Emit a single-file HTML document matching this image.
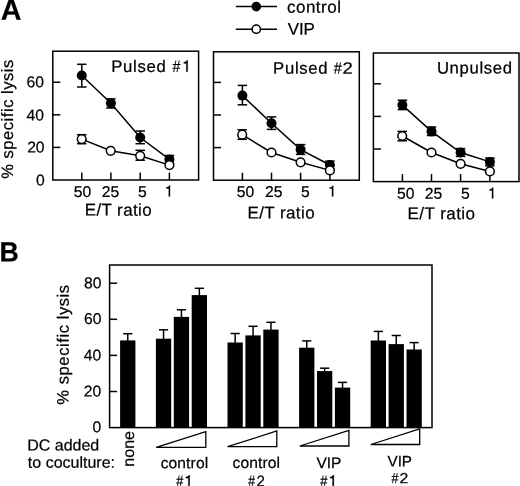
<!DOCTYPE html>
<html><head><meta charset="utf-8"><style>
html,body{margin:0;padding:0;background:#fff;}
svg{display:block;filter:grayscale(100%) blur(0.3px);}
text{font-family:"Liberation Sans", sans-serif;fill:#000;stroke:#000;stroke-width:0.22px;}
</style></head><body>
<svg width="520" height="486" viewBox="0 0 520 486">
<rect width="520" height="486" fill="#fff"/>
<text transform="translate(0.68,19.80) scale(0.985,1) rotate(0.05)" font-size="29.2" font-weight="bold">A</text>
<text transform="translate(-0.39,261.50) scale(0.958,1) rotate(0.05)" font-size="27.9" font-weight="bold">B</text>
<line x1="235.80" y1="6.60" x2="277.00" y2="6.60" stroke="#000" stroke-width="1.5"/>
<circle cx="256.30" cy="6.60" r="4.80" fill="#000"/>
<line x1="235.80" y1="29.20" x2="277.00" y2="29.20" stroke="#000" stroke-width="1.5"/>
<circle cx="256.30" cy="29.20" r="4.15" fill="#fff" stroke="#000" stroke-width="1.5"/>
<text transform="translate(286.88,12.80) rotate(0.05)" font-size="17" letter-spacing="0.522">control</text>
<text transform="translate(287.83,34.80) rotate(0.05)" font-size="17" letter-spacing="-0.215">VIP</text>
<rect x="52.80" y="51.20" width="145.80" height="128.80" fill="none" stroke="#000" stroke-width="1.5"/>
<line x1="52.80" y1="147.40" x2="60.30" y2="147.40" stroke="#000" stroke-width="1.5"/>
<line x1="52.80" y1="114.80" x2="60.30" y2="114.80" stroke="#000" stroke-width="1.5"/>
<line x1="52.80" y1="82.20" x2="60.30" y2="82.20" stroke="#000" stroke-width="1.5"/>
<line x1="81.80" y1="180.00" x2="81.80" y2="172.50" stroke="#000" stroke-width="1.5"/>
<line x1="110.90" y1="180.00" x2="110.90" y2="172.50" stroke="#000" stroke-width="1.5"/>
<line x1="140.20" y1="180.00" x2="140.20" y2="172.50" stroke="#000" stroke-width="1.5"/>
<line x1="169.40" y1="180.00" x2="169.40" y2="172.50" stroke="#000" stroke-width="1.5"/>
<polyline points="81.80,75.50 110.90,103.20 140.20,137.50 169.40,159.40" fill="none" stroke="#000" stroke-width="1.5"/>
<polyline points="81.70,139.10 110.70,150.80 140.20,155.80 169.40,165.10" fill="none" stroke="#000" stroke-width="1.5"/>
<line x1="81.80" y1="64.30" x2="81.80" y2="87.00" stroke="#000" stroke-width="1.5"/>
<line x1="77.05" y1="64.30" x2="86.55" y2="64.30" stroke="#000" stroke-width="1.5"/>
<line x1="77.05" y1="87.00" x2="86.55" y2="87.00" stroke="#000" stroke-width="1.5"/>
<line x1="110.90" y1="98.90" x2="110.90" y2="108.00" stroke="#000" stroke-width="1.5"/>
<line x1="106.15" y1="98.90" x2="115.65" y2="98.90" stroke="#000" stroke-width="1.5"/>
<line x1="106.15" y1="108.00" x2="115.65" y2="108.00" stroke="#000" stroke-width="1.5"/>
<line x1="140.20" y1="131.00" x2="140.20" y2="143.70" stroke="#000" stroke-width="1.5"/>
<line x1="135.45" y1="131.00" x2="144.95" y2="131.00" stroke="#000" stroke-width="1.5"/>
<line x1="135.45" y1="143.70" x2="144.95" y2="143.70" stroke="#000" stroke-width="1.5"/>
<line x1="169.40" y1="155.50" x2="169.40" y2="163.30" stroke="#000" stroke-width="1.5"/>
<line x1="164.65" y1="155.50" x2="174.15" y2="155.50" stroke="#000" stroke-width="1.5"/>
<line x1="164.65" y1="163.30" x2="174.15" y2="163.30" stroke="#000" stroke-width="1.5"/>
<line x1="81.70" y1="134.70" x2="81.70" y2="143.70" stroke="#000" stroke-width="1.5"/>
<line x1="76.95" y1="134.70" x2="86.45" y2="134.70" stroke="#000" stroke-width="1.5"/>
<line x1="76.95" y1="143.70" x2="86.45" y2="143.70" stroke="#000" stroke-width="1.5"/>
<line x1="140.20" y1="150.30" x2="140.20" y2="160.20" stroke="#000" stroke-width="1.5"/>
<line x1="135.45" y1="150.30" x2="144.95" y2="150.30" stroke="#000" stroke-width="1.5"/>
<line x1="135.45" y1="160.20" x2="144.95" y2="160.20" stroke="#000" stroke-width="1.5"/>
<circle cx="81.80" cy="75.50" r="5.00" fill="#000"/>
<circle cx="110.90" cy="103.20" r="5.00" fill="#000"/>
<circle cx="140.20" cy="137.50" r="5.00" fill="#000"/>
<circle cx="169.40" cy="159.40" r="5.00" fill="#000"/>
<circle cx="81.70" cy="139.10" r="4.35" fill="#fff" stroke="#000" stroke-width="1.5"/>
<circle cx="110.70" cy="150.80" r="4.35" fill="#fff" stroke="#000" stroke-width="1.5"/>
<circle cx="140.20" cy="155.80" r="4.35" fill="#fff" stroke="#000" stroke-width="1.5"/>
<circle cx="169.40" cy="165.10" r="4.35" fill="#fff" stroke="#000" stroke-width="1.5"/>
<text transform="translate(111.23,71.90) rotate(0.05)" font-size="16.7" letter-spacing="0.717">Pulsed</text>
<text transform="translate(73.66,196.90) rotate(0.05)" font-size="15.7">50</text>
<text transform="translate(101.70,196.90) rotate(0.05)" font-size="15.7">25</text>
<text transform="translate(138.05,196.90) rotate(0.05)" font-size="15.7">5</text>
<path d="M 170.07 196.40 L 170.07 185.55 L 169.32 185.55 C 169.02 186.61 168.02 187.22 166.34 187.34 L 166.34 188.52 L 168.73 188.52 L 168.73 196.40 Z" fill="#000" stroke="#000" stroke-width="0.22"/>
<path d="M 187.72 71.80 L 187.72 60.24 L 186.92 60.24 C 186.59 61.37 185.53 62.02 183.74 62.15 L 183.74 63.41 L 186.28 63.41 L 186.28 71.80 Z" fill="#000" stroke="#000" stroke-width="0.22"/>
<text transform="translate(172.54,71.90) scale(0.875,1) rotate(0.05)" font-size="16.3">#</text>
<text transform="translate(84.81,215.60) rotate(0.05)" font-size="17" letter-spacing="0.359">E/T ratio</text>
<rect x="213.50" y="51.80" width="145.80" height="128.40" fill="none" stroke="#000" stroke-width="1.5"/>
<line x1="213.50" y1="147.60" x2="221.00" y2="147.60" stroke="#000" stroke-width="1.5"/>
<line x1="213.50" y1="115.00" x2="221.00" y2="115.00" stroke="#000" stroke-width="1.5"/>
<line x1="213.50" y1="82.40" x2="221.00" y2="82.40" stroke="#000" stroke-width="1.5"/>
<line x1="242.40" y1="180.20" x2="242.40" y2="172.70" stroke="#000" stroke-width="1.5"/>
<line x1="271.50" y1="180.20" x2="271.50" y2="172.70" stroke="#000" stroke-width="1.5"/>
<line x1="300.60" y1="180.20" x2="300.60" y2="172.70" stroke="#000" stroke-width="1.5"/>
<line x1="329.90" y1="180.20" x2="329.90" y2="172.70" stroke="#000" stroke-width="1.5"/>
<polyline points="242.40,95.60 271.50,123.20 300.60,149.60 329.90,165.00" fill="none" stroke="#000" stroke-width="1.5"/>
<polyline points="242.20,134.70 271.50,152.50 300.60,162.30 329.90,170.40" fill="none" stroke="#000" stroke-width="1.5"/>
<line x1="242.40" y1="85.40" x2="242.40" y2="104.80" stroke="#000" stroke-width="1.5"/>
<line x1="237.65" y1="85.40" x2="247.15" y2="85.40" stroke="#000" stroke-width="1.5"/>
<line x1="237.65" y1="104.80" x2="247.15" y2="104.80" stroke="#000" stroke-width="1.5"/>
<line x1="271.50" y1="116.90" x2="271.50" y2="129.40" stroke="#000" stroke-width="1.5"/>
<line x1="266.75" y1="116.90" x2="276.25" y2="116.90" stroke="#000" stroke-width="1.5"/>
<line x1="266.75" y1="129.40" x2="276.25" y2="129.40" stroke="#000" stroke-width="1.5"/>
<line x1="300.60" y1="144.60" x2="300.60" y2="154.40" stroke="#000" stroke-width="1.5"/>
<line x1="295.85" y1="144.60" x2="305.35" y2="144.60" stroke="#000" stroke-width="1.5"/>
<line x1="295.85" y1="154.40" x2="305.35" y2="154.40" stroke="#000" stroke-width="1.5"/>
<line x1="329.90" y1="161.10" x2="329.90" y2="168.90" stroke="#000" stroke-width="1.5"/>
<line x1="325.15" y1="161.10" x2="334.65" y2="161.10" stroke="#000" stroke-width="1.5"/>
<line x1="325.15" y1="168.90" x2="334.65" y2="168.90" stroke="#000" stroke-width="1.5"/>
<line x1="242.20" y1="129.80" x2="242.20" y2="139.30" stroke="#000" stroke-width="1.5"/>
<line x1="237.45" y1="129.80" x2="246.95" y2="129.80" stroke="#000" stroke-width="1.5"/>
<line x1="237.45" y1="139.30" x2="246.95" y2="139.30" stroke="#000" stroke-width="1.5"/>
<circle cx="242.40" cy="95.60" r="5.00" fill="#000"/>
<circle cx="271.50" cy="123.20" r="5.00" fill="#000"/>
<circle cx="300.60" cy="149.60" r="5.00" fill="#000"/>
<circle cx="329.90" cy="165.00" r="5.00" fill="#000"/>
<circle cx="242.20" cy="134.70" r="4.35" fill="#fff" stroke="#000" stroke-width="1.5"/>
<circle cx="271.50" cy="152.50" r="4.35" fill="#fff" stroke="#000" stroke-width="1.5"/>
<circle cx="300.60" cy="162.30" r="4.35" fill="#fff" stroke="#000" stroke-width="1.5"/>
<circle cx="329.90" cy="170.40" r="4.35" fill="#fff" stroke="#000" stroke-width="1.5"/>
<text transform="translate(273.03,73.70) rotate(0.05)" font-size="16.7" letter-spacing="0.717">Pulsed</text>
<text transform="translate(236.76,196.90) rotate(0.05)" font-size="15.7">50</text>
<text transform="translate(264.95,196.90) rotate(0.05)" font-size="15.7">25</text>
<text transform="translate(301.05,196.90) rotate(0.05)" font-size="15.7">5</text>
<path d="M 333.27 196.50 L 333.27 185.65 L 332.52 185.65 C 332.22 186.71 331.22 187.32 329.54 187.44 L 329.54 188.62 L 331.93 188.62 L 331.93 196.50 Z" fill="#000" stroke="#000" stroke-width="0.22"/>
<text transform="translate(333.74,73.70) scale(0.886,1) rotate(0.05)" font-size="16.3">#</text>
<text transform="translate(342.57,73.70) scale(1.117,1) rotate(0.05)" font-size="16.5">2</text>
<text transform="translate(247.51,218.50) rotate(0.05)" font-size="17" letter-spacing="0.396">E/T ratio</text>
<rect x="373.40" y="53.00" width="145.60" height="128.60" fill="none" stroke="#000" stroke-width="1.5"/>
<line x1="373.40" y1="149.00" x2="380.90" y2="149.00" stroke="#000" stroke-width="1.5"/>
<line x1="373.40" y1="116.40" x2="380.90" y2="116.40" stroke="#000" stroke-width="1.5"/>
<line x1="373.40" y1="83.80" x2="380.90" y2="83.80" stroke="#000" stroke-width="1.5"/>
<line x1="402.40" y1="181.60" x2="402.40" y2="174.10" stroke="#000" stroke-width="1.5"/>
<line x1="431.50" y1="181.60" x2="431.50" y2="174.10" stroke="#000" stroke-width="1.5"/>
<line x1="460.60" y1="181.60" x2="460.60" y2="174.10" stroke="#000" stroke-width="1.5"/>
<line x1="489.90" y1="181.60" x2="489.90" y2="174.10" stroke="#000" stroke-width="1.5"/>
<polyline points="402.40,105.10 431.50,131.40 460.60,152.50 489.90,161.90" fill="none" stroke="#000" stroke-width="1.5"/>
<polyline points="402.20,136.00 431.50,152.50 460.60,163.80 489.90,171.40" fill="none" stroke="#000" stroke-width="1.5"/>
<line x1="402.40" y1="100.20" x2="402.40" y2="109.60" stroke="#000" stroke-width="1.5"/>
<line x1="397.65" y1="100.20" x2="407.15" y2="100.20" stroke="#000" stroke-width="1.5"/>
<line x1="397.65" y1="109.60" x2="407.15" y2="109.60" stroke="#000" stroke-width="1.5"/>
<line x1="431.50" y1="127.00" x2="431.50" y2="135.50" stroke="#000" stroke-width="1.5"/>
<line x1="426.75" y1="127.00" x2="436.25" y2="127.00" stroke="#000" stroke-width="1.5"/>
<line x1="426.75" y1="135.50" x2="436.25" y2="135.50" stroke="#000" stroke-width="1.5"/>
<line x1="460.60" y1="148.60" x2="460.60" y2="156.40" stroke="#000" stroke-width="1.5"/>
<line x1="455.85" y1="148.60" x2="465.35" y2="148.60" stroke="#000" stroke-width="1.5"/>
<line x1="455.85" y1="156.40" x2="465.35" y2="156.40" stroke="#000" stroke-width="1.5"/>
<line x1="489.90" y1="158.00" x2="489.90" y2="165.80" stroke="#000" stroke-width="1.5"/>
<line x1="485.15" y1="158.00" x2="494.65" y2="158.00" stroke="#000" stroke-width="1.5"/>
<line x1="485.15" y1="165.80" x2="494.65" y2="165.80" stroke="#000" stroke-width="1.5"/>
<line x1="402.20" y1="131.40" x2="402.20" y2="140.80" stroke="#000" stroke-width="1.5"/>
<line x1="397.45" y1="131.40" x2="406.95" y2="131.40" stroke="#000" stroke-width="1.5"/>
<line x1="397.45" y1="140.80" x2="406.95" y2="140.80" stroke="#000" stroke-width="1.5"/>
<circle cx="402.40" cy="105.10" r="5.00" fill="#000"/>
<circle cx="431.50" cy="131.40" r="5.00" fill="#000"/>
<circle cx="460.60" cy="152.50" r="5.00" fill="#000"/>
<circle cx="489.90" cy="161.90" r="5.00" fill="#000"/>
<circle cx="402.20" cy="136.00" r="4.35" fill="#fff" stroke="#000" stroke-width="1.5"/>
<circle cx="431.50" cy="152.50" r="4.35" fill="#fff" stroke="#000" stroke-width="1.5"/>
<circle cx="460.60" cy="163.80" r="4.35" fill="#fff" stroke="#000" stroke-width="1.5"/>
<circle cx="489.90" cy="171.40" r="4.35" fill="#fff" stroke="#000" stroke-width="1.5"/>
<text transform="translate(436.91,73.40) rotate(0.05)" font-size="16.7" letter-spacing="0.644">Unpulsed</text>
<text transform="translate(396.91,198.70) rotate(0.05)" font-size="15.7">50</text>
<text transform="translate(424.85,198.70) rotate(0.05)" font-size="15.7">25</text>
<text transform="translate(461.05,198.70) rotate(0.05)" font-size="15.7">5</text>
<path d="M 493.27 198.40 L 493.27 187.55 L 492.52 187.55 C 492.22 188.61 491.22 189.22 489.54 189.34 L 489.54 190.52 L 491.93 190.52 L 491.93 198.40 Z" fill="#000" stroke="#000" stroke-width="0.22"/>
<text transform="translate(407.51,219.30) rotate(0.05)" font-size="17" letter-spacing="0.446">E/T ratio</text>
<text transform="translate(26.55,87.30) rotate(0.05)" font-size="15.7">60</text>
<text transform="translate(26.55,120.40) rotate(0.05)" font-size="15.7">40</text>
<text transform="translate(27.15,152.60) rotate(0.05)" font-size="15.7">20</text>
<text transform="translate(35.88,185.40) rotate(0.05)" font-size="15.7">0</text>
<text transform="translate(12.90,178.20) rotate(-89.95)" x="-0.59" y="0" font-size="16.5" letter-spacing="0.543">% specific lysis</text>
<rect x="109.60" y="265.00" width="322.40" height="162.60" fill="none" stroke="#000" stroke-width="1.5"/>
<line x1="109.60" y1="391.50" x2="117.10" y2="391.50" stroke="#000" stroke-width="1.5"/>
<line x1="109.60" y1="355.40" x2="117.10" y2="355.40" stroke="#000" stroke-width="1.5"/>
<line x1="109.60" y1="319.30" x2="117.10" y2="319.30" stroke="#000" stroke-width="1.5"/>
<line x1="109.60" y1="283.20" x2="117.10" y2="283.20" stroke="#000" stroke-width="1.5"/>
<text transform="translate(84.05,288.30) rotate(0.05)" font-size="15.7">80</text>
<text transform="translate(84.05,324.10) rotate(0.05)" font-size="15.7">60</text>
<text transform="translate(83.85,360.50) rotate(0.05)" font-size="15.7">40</text>
<text transform="translate(83.85,396.50) rotate(0.05)" font-size="15.7">20</text>
<text transform="translate(92.58,432.30) rotate(0.05)" font-size="15.7">0</text>
<text transform="translate(68.60,404.10) rotate(-89.95)" x="-0.59" y="0" font-size="16.5" letter-spacing="0.590">% specific lysis</text>
<rect x="120.10" y="340.40" width="15.30" height="87.20" fill="#000"/>
<line x1="127.75" y1="333.70" x2="127.75" y2="341.40" stroke="#000" stroke-width="1.5"/>
<line x1="123.15" y1="333.70" x2="132.35" y2="333.70" stroke="#000" stroke-width="1.5"/>
<rect x="155.90" y="338.70" width="15.30" height="88.90" fill="#000"/>
<line x1="163.55" y1="329.80" x2="163.55" y2="339.70" stroke="#000" stroke-width="1.5"/>
<line x1="158.95" y1="329.80" x2="168.15" y2="329.80" stroke="#000" stroke-width="1.5"/>
<rect x="173.80" y="316.90" width="15.30" height="110.70" fill="#000"/>
<line x1="181.45" y1="309.80" x2="181.45" y2="317.90" stroke="#000" stroke-width="1.5"/>
<line x1="176.85" y1="309.80" x2="186.05" y2="309.80" stroke="#000" stroke-width="1.5"/>
<rect x="191.70" y="295.10" width="15.30" height="132.50" fill="#000"/>
<line x1="199.35" y1="288.30" x2="199.35" y2="296.10" stroke="#000" stroke-width="1.5"/>
<line x1="194.75" y1="288.30" x2="203.95" y2="288.30" stroke="#000" stroke-width="1.5"/>
<rect x="227.50" y="342.50" width="15.30" height="85.10" fill="#000"/>
<line x1="235.15" y1="333.50" x2="235.15" y2="343.50" stroke="#000" stroke-width="1.5"/>
<line x1="230.55" y1="333.50" x2="239.75" y2="333.50" stroke="#000" stroke-width="1.5"/>
<rect x="245.40" y="335.40" width="15.30" height="92.20" fill="#000"/>
<line x1="253.05" y1="326.30" x2="253.05" y2="336.40" stroke="#000" stroke-width="1.5"/>
<line x1="248.45" y1="326.30" x2="257.65" y2="326.30" stroke="#000" stroke-width="1.5"/>
<rect x="263.30" y="329.60" width="15.30" height="98.00" fill="#000"/>
<line x1="270.95" y1="322.30" x2="270.95" y2="330.60" stroke="#000" stroke-width="1.5"/>
<line x1="266.35" y1="322.30" x2="275.55" y2="322.30" stroke="#000" stroke-width="1.5"/>
<rect x="299.10" y="347.70" width="15.30" height="79.90" fill="#000"/>
<line x1="306.75" y1="340.90" x2="306.75" y2="348.70" stroke="#000" stroke-width="1.5"/>
<line x1="302.15" y1="340.90" x2="311.35" y2="340.90" stroke="#000" stroke-width="1.5"/>
<rect x="317.00" y="371.10" width="15.30" height="56.50" fill="#000"/>
<line x1="324.65" y1="368.20" x2="324.65" y2="372.10" stroke="#000" stroke-width="1.5"/>
<line x1="320.05" y1="368.20" x2="329.25" y2="368.20" stroke="#000" stroke-width="1.5"/>
<rect x="334.90" y="387.60" width="15.30" height="40.00" fill="#000"/>
<line x1="342.55" y1="382.40" x2="342.55" y2="388.60" stroke="#000" stroke-width="1.5"/>
<line x1="337.95" y1="382.40" x2="347.15" y2="382.40" stroke="#000" stroke-width="1.5"/>
<rect x="370.70" y="340.50" width="15.30" height="87.10" fill="#000"/>
<line x1="378.35" y1="331.40" x2="378.35" y2="341.50" stroke="#000" stroke-width="1.5"/>
<line x1="373.75" y1="331.40" x2="382.95" y2="331.40" stroke="#000" stroke-width="1.5"/>
<rect x="388.60" y="344.10" width="15.30" height="83.50" fill="#000"/>
<line x1="396.25" y1="335.50" x2="396.25" y2="345.10" stroke="#000" stroke-width="1.5"/>
<line x1="391.65" y1="335.50" x2="400.85" y2="335.50" stroke="#000" stroke-width="1.5"/>
<rect x="406.50" y="349.50" width="15.30" height="78.10" fill="#000"/>
<line x1="414.15" y1="342.60" x2="414.15" y2="350.50" stroke="#000" stroke-width="1.5"/>
<line x1="409.55" y1="342.60" x2="418.75" y2="342.60" stroke="#000" stroke-width="1.5"/>
<polygon points="156.20,447.40 205.80,447.40 205.80,431.60" fill="none" stroke="#000" stroke-width="1.3" stroke-linejoin="miter" stroke-miterlimit="2"/>
<polygon points="227.60,446.70 276.80,446.70 276.80,431.00" fill="none" stroke="#000" stroke-width="1.3" stroke-linejoin="miter" stroke-miterlimit="2"/>
<polygon points="299.80,446.00 348.90,446.00 348.90,430.50" fill="none" stroke="#000" stroke-width="1.3" stroke-linejoin="miter" stroke-miterlimit="2"/>
<polygon points="370.80,444.50 419.70,444.50 419.70,429.00" fill="none" stroke="#000" stroke-width="1.3" stroke-linejoin="miter" stroke-miterlimit="2"/>
<text transform="translate(27.19,450.50) rotate(0.05)" font-size="16">DC added</text>
<text transform="translate(27.86,467.70) rotate(0.05)" font-size="16">to coculture:</text>
<text transform="translate(134.00,465.60) rotate(-89.95)" x="-1.06" y="0" font-size="16">none</text>
<text transform="translate(160.64,468.30) rotate(0.05)" font-size="15.6" letter-spacing="0.114">control</text>
<text transform="translate(176.34,486.40) scale(0.799,1) rotate(0.05)" font-size="15.8">#</text>
<path d="M 189.70 486.40 L 189.70 475.06 L 188.92 475.06 C 188.60 476.16 187.56 476.80 185.80 476.93 L 185.80 478.16 L 188.30 478.16 L 188.30 486.40 Z" fill="#000" stroke="#000" stroke-width="0.22"/>
<text transform="translate(232.54,468.00) rotate(0.05)" font-size="15.6" letter-spacing="0.114">control</text>
<text transform="translate(248.15,486.40) scale(0.764,1) rotate(0.05)" font-size="15.8">#</text>
<text transform="translate(256.45,486.40) scale(0.945,1) rotate(0.05)" font-size="15.8">2</text>
<text transform="translate(316.53,468.20) rotate(0.05)" font-size="15.5" letter-spacing="-0.099">VIP</text>
<text transform="translate(320.34,486.40) scale(0.810,1) rotate(0.05)" font-size="15.8">#</text>
<path d="M 333.90 486.40 L 333.90 475.06 L 333.12 475.06 C 332.80 476.16 331.76 476.80 330.00 476.93 L 330.00 478.16 L 332.50 478.16 L 332.50 486.40 Z" fill="#000" stroke="#000" stroke-width="0.22"/>
<text transform="translate(387.53,466.40) rotate(0.05)" font-size="15.3" letter-spacing="-0.093">VIP</text>
<text transform="translate(391.45,483.20) scale(0.840,1) rotate(0.05)" font-size="14.8">#</text>
<text transform="translate(399.51,483.20) scale(1.068,1) rotate(0.05)" font-size="14.8">2</text>
</svg>
</body></html>
